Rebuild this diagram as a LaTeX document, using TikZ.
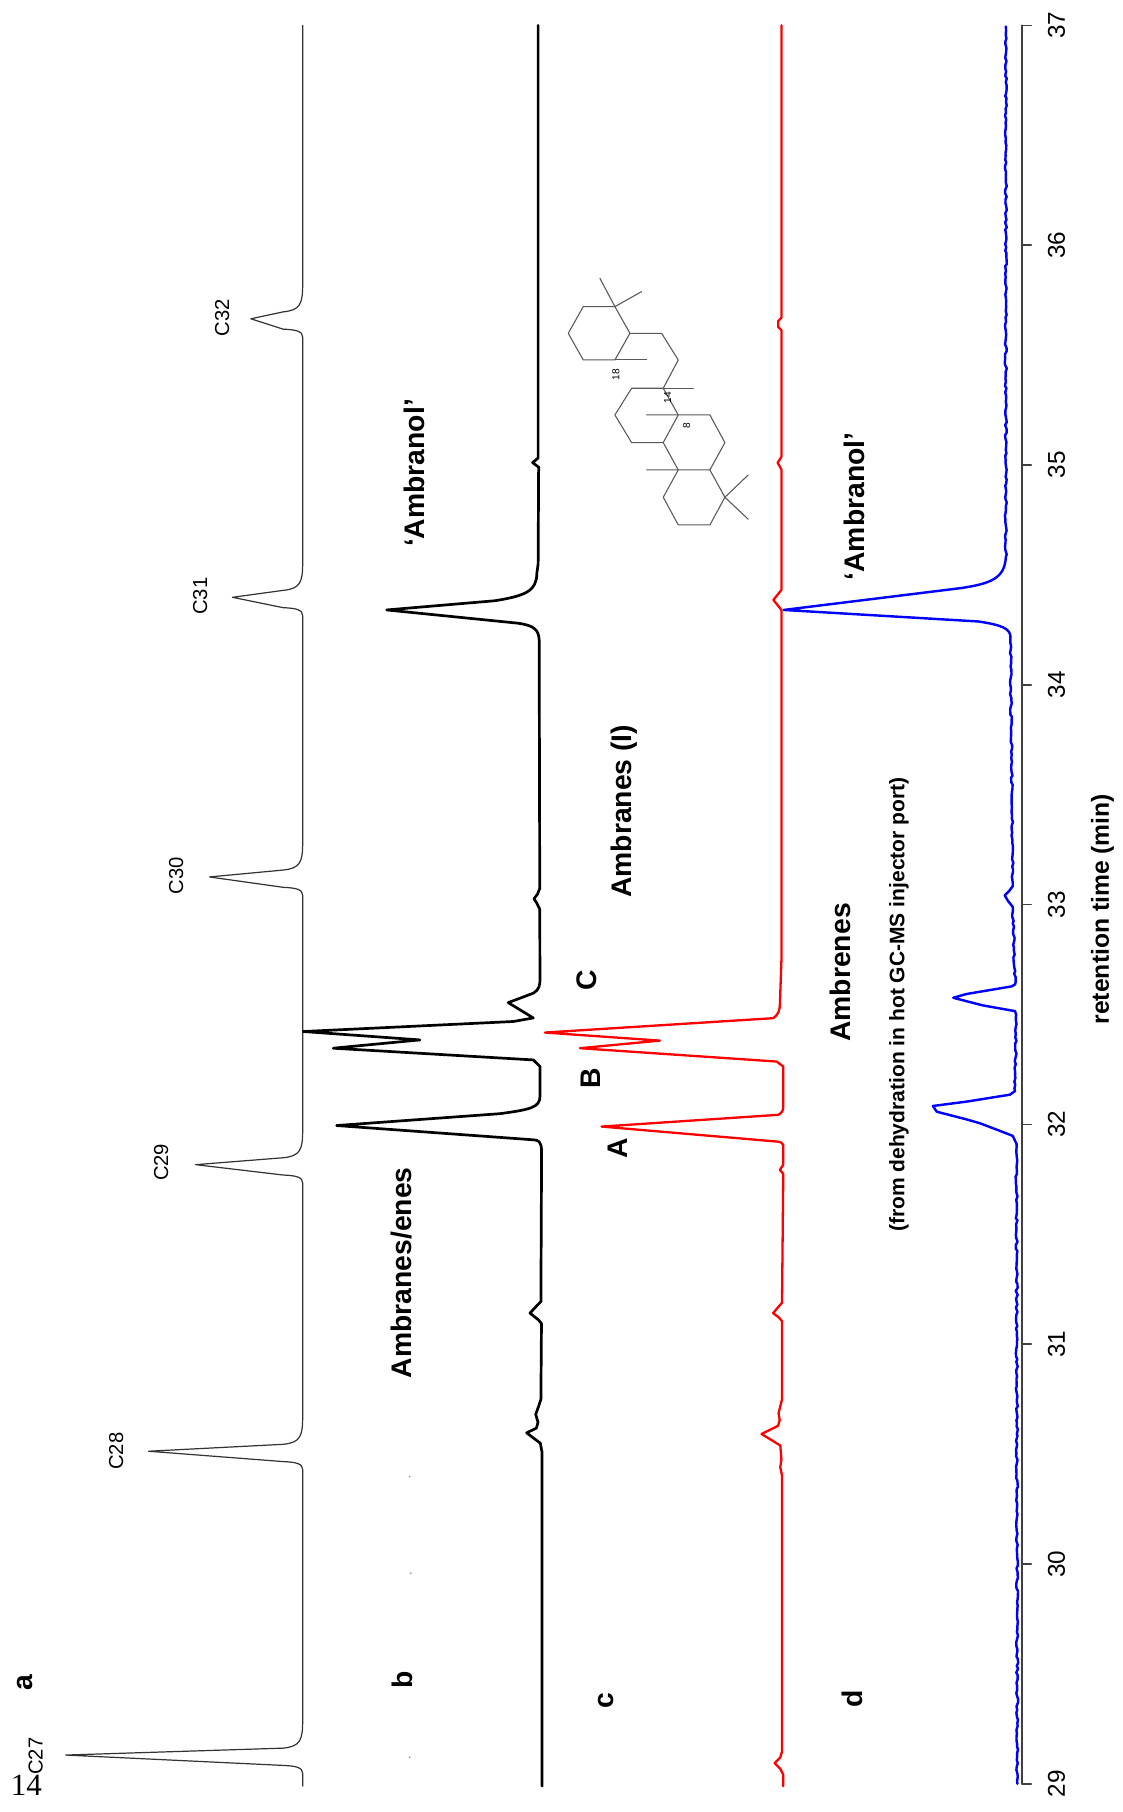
\documentclass[tikz,border=0pt]{standalone}
\usepackage{fontspec}
\setmainfont{Liberation Sans}
\newfontfamily\pagefont{Liberation Serif}
\usetikzlibrary{decorations.pathmorphing}
\begin{document}
\pgfmathsetseed{7}
\begin{tikzpicture}[x=0.03cm,y=-0.03cm,
  line join=round, line cap=round,
  tra/.style={draw=black!80, line width=0.9pt},
  trb/.style={draw=black, line width=2pt},
  trc/.style={draw=red, line width=1.7pt},
  trd/.style={draw=blue, line width=1.8pt},
  noisy/.style={decorate, decoration={random steps, segment length=2.5pt, amplitude=0.7pt}},
  lab/.style={font=\fontsize{21}{25}\selectfont\bfseries, rotate=90, inner sep=0pt},
  sublab/.style={font=\fontsize{15.6}{18}\selectfont\bfseries, rotate=90, inner sep=0pt},
  clab/.style={font=\fontsize{15}{18}\selectfont, rotate=90, inner sep=0pt},
  ticklab/.style={font=\fontsize{18}{22}\selectfont, rotate=90, inner sep=0pt},
  axlab/.style={font=\fontsize{18.3}{22}\selectfont\bfseries, rotate=90, inner sep=0pt},
  mol/.style={draw=black!65, line width=0.8pt},
  mlab/.style={font=\fontsize{7.5}{9}\selectfont, rotate=90, inner sep=0pt},
  speck/.style={fill=black!45, draw=none},
]
\useasboundingbox (0,0) rectangle (975,1574.5);

% ---------- trace a ----------
\draw[tra] (263,1552) -- (263,1541) .. controls (263,1536) and (258,1534.5) .. (246,1534) -- (57,1525)
  -- (246,1519) .. controls (261,1517.5) and (263,1512) .. (263,1495)
  -- (263,1277) .. controls (263,1272) and (258,1270.5) .. (246,1270) -- (129,1261)
  -- (246,1255) .. controls (261,1253.5) and (263,1248) .. (263,1231)
  -- (263,1028) .. controls (263,1023) and (258,1021.5) .. (246,1021) -- (170,1012)
  -- (246,1006) .. controls (261,1004.5) and (263,999) .. (263,982)
  -- (263,778) .. controls (263,773) and (258,771.5) .. (246,771) -- (182,762)
  -- (246,756) .. controls (261,754.5) and (263,749) .. (263,732)
  -- (263,535) .. controls (263,530) and (258,528.5) .. (246,528) -- (202,519)
  -- (246,513) .. controls (261,511.5) and (263,506) .. (263,489)
  -- (263,293) .. controls (263,288) and (258,286.5) .. (246,286) -- (218,277)
  -- (246,271) .. controls (261,269.5) and (263,264) .. (263,247)
  -- (263,22);

% ---------- trace b ----------
\draw[trb] (471,1552) -- (471,1262) -- (469.5,1254) -- (457.6,1245) -- (466,1241) -- (467.5,1236)
  -- (465.5,1229) -- (468,1222) -- (470,1216) -- (470.5,1150) -- (468,1147) -- (460.5,1141)
  -- (467,1134) -- (470,1131) -- (470.6,1000)
  .. controls (470.3,992) and (468,990.6) .. (463.4,990.4) -- (292.5,978)
  -- (434.4,967.7) .. controls (462,964) and (469,962) .. (469.2,952.8)
  -- (469.2,926.7) -- (463.4,921) -- (289.6,910.8) -- (364.9,903.6) -- (263.5,896.3)
  -- (446,887.6) -- (463.4,884.5) -- (441.6,871.2) -- (463.4,863)
  .. controls (468.5,860) and (469.2,856) .. (469.2,851.4)
  -- (469,790) -- (466,784) -- (464,781) -- (467,777) -- (469,772)
  -- (468.5,556) .. controls (468,547) and (464,543.5) .. (450,541.5) -- (336,530)
  -- (430,522) .. controls (458,517.5) and (466.3,513) .. (466.5,498)
  -- (467.6,490) -- (468,410) -- (468.2,406) -- (462.8,402) -- (467.6,398) -- (467.6,22);

% ---------- trace c ----------
\draw[trc] (680.6,1552) -- (680.6,1542) -- (678,1537) -- (673,1532) -- (678,1527) -- (679.5,1522)
  -- (679.5,1282) -- (678,1275) -- (679,1268) -- (678,1256) -- (661.7,1246) -- (676,1239)
  -- (677.5,1234) -- (676.5,1228) -- (678,1222) -- (679.5,1216) -- (679.5,1148) -- (677,1145)
  -- (671.8,1141) -- (676,1136) -- (679.5,1132) -- (680.6,1020) -- (677.7,1016.5) -- (680.6,1012)
  -- (680.6,994.8) .. controls (680.2,993) and (678,992) .. (674.8,991.9) -- (522.7,978.9)
  -- (676.2,968.7) .. controls (679.5,967) and (680.6,965) .. (680.6,961.5)
  -- (680.6,926.7) -- (674.8,922.4) -- (503.9,910.8) -- (573.4,904.2) -- (473.5,897.2)
  -- (671.9,884.7) .. controls (676,882) and (677.7,878) .. (677.7,871.7)
  -- (679,834) -- (679,530) -- (672,521.3) -- (679,512.6) -- (679,408) -- (675.7,402)
  -- (679,397) -- (679,287) -- (676.2,284) -- (676.2,279) -- (679,276) -- (679,22);

% ---------- trace d ----------
\draw[trd,noisy] (884,1550) -- (883.3,994);
\draw[trd] (883.3,994) -- (880,987) -- (868.8,982.6) -- (851.4,976) -- (840,972.7) -- (814,966)
  -- (810.6,961) -- (840,957.2) -- (877.5,951.2) -- (882,948);
\draw[trd,noisy] (882,948) -- (883,882);
\draw[trd] (883,882) -- (882,878.6) -- (854,873.6) -- (828.3,867) -- (839.8,863.7) -- (879,857.1) -- (882,855.4);
\draw[trd,noisy] (882,855.4) -- (880,788);
\draw[trd] (880,788) -- (876,783) -- (873,778) -- (877,774) -- (880,770);
\draw[trd,noisy] (880,770) -- (878,553);
\draw[trd] (878,553) .. controls (877.5,546) and (870,543) .. (850,540) -- (681,530)
  -- (835,511) .. controls (862,507) and (873,502) .. (874,484);
\draw[trd,noisy] (874,484) -- (874,23);

% ---------- axis ----------
\draw[draw=black!75, line width=1.2pt] (888,22) -- (888,1550);
\foreach \t in {29,...,37}{
  \draw[draw=black!75, line width=1.2pt] (888,{22+(37-\t)*191}) -- (896,{22+(37-\t)*191});
  \node[ticklab] (tick\t) at (918,{22+(37-\t)*191}) {\t};
}
\node[axlab] (xlabel) at (958,790) {retention time (min)};

% ---------- faint specks ----------
\fill[speck] (356,1283) circle (0.8);
\fill[speck] (357,1367) circle (0.8);
\fill[speck] (356,1527) circle (0.8);

% ---------- labels ----------
\node[lab] (la) at (22,1462) {a};
\node[lab] (lb) at (350,1460) {b};
\node[lab] (lc) at (527,1478) {c};
\node[lab] (ld) at (741,1476) {d};
\node[font=\pagefont\fontsize{23}{26}\selectfont, inner sep=0pt] (page) at (23,1551) {14};

\node[clab] (c27) at (31,1526) {C27};
\node[clab] (c28) at (101,1261) {C28};
\node[clab] (c29) at (140,1010) {C29};
\node[clab] (c30) at (153,761) {C30};
\node[clab] (c31) at (174,518) {C31};
\node[clab] (c32) at (193,276) {C32};

\node[lab] (ambenes) at (349,1106) {Ambranes/enes};
\node[lab] (amolb) at (360,411) {‘Ambranol’};
\node[lab] (ambI) at (542,705) {Ambranes (I)};
\node[lab] (pC) at (510,852) {C};
\node[lab] (pB) at (513,937) {B};
\node[lab] (pA) at (537,998) {A};
\node[lab] (amold) at (742,440) {‘Ambranol’};
\node[lab] (ambrenes) at (730,845) {Ambrenes};
\node[sublab] (dehyd) at (781,873) {(from dehydration in hot GC-MS injector port)};

% ---------- molecule ----------
\begin{scope}[shift={(469.16,225.89)}, scale=0.2896]
  \draw[mol] (130,140) -- (225,140) -- (270,220) -- (225,300) -- (130,300) -- (85,220) -- cycle;
  \draw[mol] (180,55) -- (225,140) -- (305,95);
  \draw[mol] (225,300) -- (320,300);
  \draw[mol] (270,220) -- (365,220) -- (415,300) -- (370,385);
  \draw[mol] (275,385) -- (370,385) -- (415,465) -- (370,548) -- (275,548) -- (225,465) -- cycle;
  \draw[mol] (370,385) -- (460,385);
  \draw[mol] (320,465) -- (415,465) -- (510,465) -- (555,548) -- (510,630) -- (415,630) -- (370,548);
  \draw[mol] (510,630) -- (555,712) -- (510,795) -- (415,795) -- (370,712) -- (415,630) -- (320,630);
  \draw[mol] (625,645) -- (555,712) -- (625,778);
  \node[mlab] (n18) at (228,345) {18};
  \node[mlab] (n14) at (383,413) {14};
  \node[mlab] (n8) at (440,496) {8};
\end{scope}
\end{tikzpicture}
\end{document}
